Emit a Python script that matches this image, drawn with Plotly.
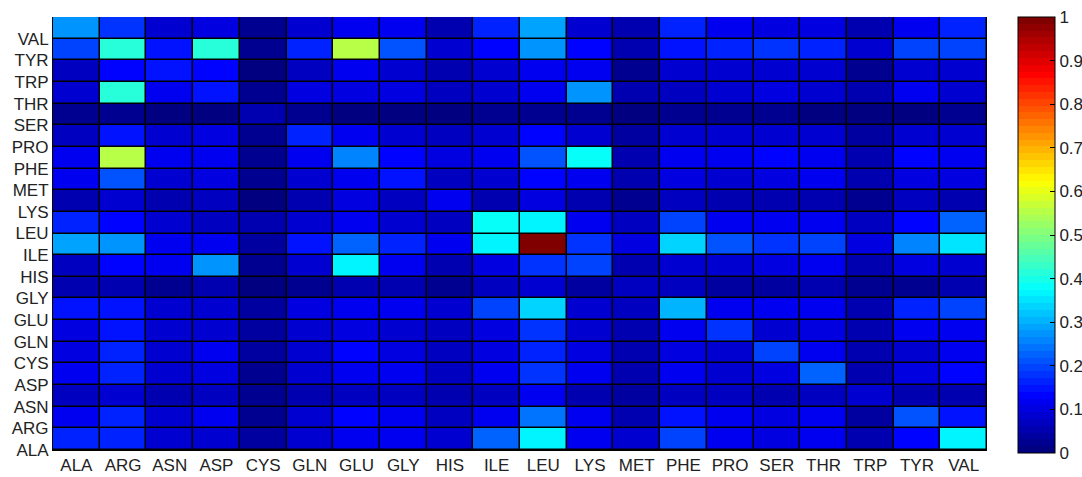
import plotly.graph_objects as go

x_labels = ["ALA", "ARG", "ASN", "ASP", "CYS", "GLN", "GLU", "GLY", "HIS", "ILE",
            "LEU", "LYS", "MET", "PHE", "PRO", "SER", "THR", "TRP", "TYR", "VAL"]
y_labels = ["ALA", "ARG", "ASN", "ASP", "CYS", "GLN", "GLU", "GLY", "HIS", "ILE",
            "LEU", "LYS", "MET", "PHE", "PRO", "SER", "THR", "TRP", "TYR", "VAL"]

# matrix rows listed from the top row of the picture down to the bottom row
row_01 = [0.27, 0.18, 0.08, 0.10, 0.03, 0.08, 0.12, 0.12, 0.05, 0.16, 0.29, 0.09, 0.05, 0.16, 0.11, 0.10, 0.10, 0.06, 0.12, 0.17]
row_02 = [0.20, 0.41, 0.15, 0.42, 0.03, 0.17, 0.55, 0.21, 0.08, 0.14, 0.27, 0.13, 0.06, 0.15, 0.16, 0.18, 0.17, 0.08, 0.19, 0.19]
row_03 = [0.07, 0.14, 0.15, 0.13, 0.01, 0.07, 0.12, 0.09, 0.05, 0.08, 0.12, 0.11, 0.02, 0.08, 0.08, 0.09, 0.08, 0.03, 0.08, 0.08]
row_04 = [0.09, 0.42, 0.11, 0.15, 0.03, 0.10, 0.10, 0.10, 0.07, 0.08, 0.12, 0.27, 0.05, 0.07, 0.08, 0.10, 0.09, 0.05, 0.11, 0.08]
row_05 = [0.03, 0.03, 0.01, 0.00, 0.05, 0.02, 0.00, 0.00, 0.01, 0.02, 0.03, 0.02, 0.01, 0.03, 0.02, 0.02, 0.00, 0.00, 0.01, 0.02]
row_06 = [0.07, 0.15, 0.08, 0.10, 0.03, 0.16, 0.12, 0.09, 0.07, 0.09, 0.14, 0.08, 0.04, 0.09, 0.08, 0.09, 0.09, 0.04, 0.08, 0.09]
row_07 = [0.12, 0.55, 0.12, 0.11, 0.02, 0.12, 0.25, 0.13, 0.10, 0.12, 0.21, 0.38, 0.05, 0.11, 0.11, 0.14, 0.12, 0.06, 0.14, 0.12]
row_08 = [0.12, 0.21, 0.08, 0.10, 0.02, 0.08, 0.12, 0.15, 0.07, 0.09, 0.14, 0.11, 0.05, 0.10, 0.09, 0.10, 0.11, 0.05, 0.10, 0.10]
row_09 = [0.05, 0.09, 0.05, 0.07, 0.01, 0.06, 0.10, 0.07, 0.11, 0.06, 0.10, 0.05, 0.02, 0.07, 0.06, 0.06, 0.05, 0.02, 0.07, 0.06]
row_10 = [0.16, 0.14, 0.08, 0.07, 0.05, 0.09, 0.12, 0.09, 0.07, 0.38, 0.36, 0.11, 0.07, 0.19, 0.11, 0.11, 0.12, 0.07, 0.14, 0.22]
row_11 = [0.29, 0.27, 0.12, 0.12, 0.04, 0.15, 0.22, 0.17, 0.11, 0.36, 1.00, 0.18, 0.10, 0.33, 0.21, 0.18, 0.20, 0.10, 0.25, 0.35]
row_12 = [0.07, 0.14, 0.11, 0.28, 0.02, 0.08, 0.36, 0.11, 0.06, 0.10, 0.18, 0.20, 0.05, 0.09, 0.09, 0.10, 0.11, 0.05, 0.10, 0.09]
row_13 = [0.05, 0.06, 0.03, 0.05, 0.01, 0.03, 0.05, 0.05, 0.03, 0.07, 0.09, 0.04, 0.07, 0.07, 0.04, 0.04, 0.05, 0.02, 0.03, 0.05]
row_14 = [0.15, 0.15, 0.09, 0.08, 0.04, 0.10, 0.11, 0.11, 0.08, 0.20, 0.33, 0.09, 0.07, 0.31, 0.12, 0.11, 0.11, 0.06, 0.17, 0.19]
row_15 = [0.10, 0.15, 0.08, 0.09, 0.04, 0.08, 0.10, 0.09, 0.07, 0.10, 0.18, 0.09, 0.05, 0.12, 0.18, 0.09, 0.10, 0.06, 0.12, 0.12]
row_16 = [0.10, 0.17, 0.09, 0.11, 0.04, 0.09, 0.14, 0.10, 0.07, 0.10, 0.16, 0.10, 0.05, 0.10, 0.09, 0.19, 0.11, 0.06, 0.09, 0.11]
row_17 = [0.11, 0.16, 0.09, 0.10, 0.03, 0.09, 0.12, 0.11, 0.07, 0.12, 0.18, 0.11, 0.05, 0.11, 0.09, 0.10, 0.22, 0.06, 0.10, 0.13]
row_18 = [0.07, 0.08, 0.05, 0.07, 0.03, 0.06, 0.07, 0.07, 0.05, 0.07, 0.12, 0.06, 0.04, 0.07, 0.07, 0.05, 0.07, 0.08, 0.05, 0.06]
row_19 = [0.12, 0.16, 0.09, 0.11, 0.03, 0.08, 0.14, 0.11, 0.07, 0.12, 0.24, 0.11, 0.05, 0.15, 0.12, 0.10, 0.11, 0.04, 0.21, 0.15]
row_20 = [0.17, 0.17, 0.08, 0.09, 0.04, 0.09, 0.12, 0.11, 0.08, 0.22, 0.36, 0.11, 0.08, 0.20, 0.11, 0.10, 0.12, 0.06, 0.14, 0.36]

rows_top_down = [row_01, row_02, row_03, row_04, row_05, row_06, row_07, row_08, row_09, row_10,
                 row_11, row_12, row_13, row_14, row_15, row_16, row_17, row_18, row_19, row_20]
z = rows_top_down[::-1]  # bottom row first

colorbar_ticks = [0, 0.1, 0.2, 0.3, 0.4, 0.5, 0.6, 0.7, 0.8, 0.9, 1]
colorbar_text = ["0", "0.1", "0.2", "0.3", "0.4", "0.5", "0.6", "0.7", "0.8", "0.9", "1"]


def jet(t):
    r = min(max(1.5 - abs(4 * t - 3), 0), 1)
    g = min(max(1.5 - abs(4 * t - 2), 0), 1)
    b = min(max(1.5 - abs(4 * t - 1), 0), 1)
    return f"rgb({int(round(r*255))},{int(round(g*255))},{int(round(b*255))})"


n = 64
colorscale = []
for i in range(n):
    c = jet(i / (n - 1))
    colorscale.append([i / n, c])
    colorscale.append([(i + 1) / n, c])

x_pos = list(range(1, len(x_labels) + 1))
y_centers = [k + 1.5 for k in range(len(z))]

font_family = "Liberation Sans, Arial, sans-serif"

fig = go.Figure(go.Heatmap(
    z=z,
    x=x_pos,
    y=y_centers,
    zmin=0, zmax=1,
    colorscale=colorscale,
    xgap=1.5, ygap=1.5,
    colorbar=dict(
        xref="container", x=1018 / 1082, xanchor="left",
        yref="paper", y=0.4965, yanchor="middle",
        len=1.007, lenmode="fraction",
        xpad=0, ypad=0,
        thickness=37, thicknessmode="pixels",
        outlinecolor="black", outlinewidth=1,
        tickvals=colorbar_ticks, ticktext=colorbar_text,
        ticks="inside", ticklen=5, tickcolor="black",
        tickfont=dict(family=font_family, size=17, color="#222"),
    ),
))

fig.update_layout(
    width=1082, height=477,
    margin=dict(l=53, r=95, t=17, b=27),
    paper_bgcolor="white",
    plot_bgcolor="black",
    xaxis=dict(
        range=[0.5, 20.5], tickvals=x_pos, ticktext=x_labels,
        showgrid=False, zeroline=False, ticks="", automargin=False,
        showline=True, linecolor="black", linewidth=1,
        tickfont=dict(family=font_family, size=17, color="#222"),
    ),
    yaxis=dict(
        range=[1, 21], tickvals=list(range(1, 21)), ticktext=y_labels,
        showgrid=False, zeroline=False, ticks="", automargin=False,
        showline=True, linecolor="black", linewidth=1,
        tickfont=dict(family=font_family, size=17, color="#222"),
    ),
)

fig.write_html(
    "out.html",
    config={"displayModeBar": False},
    post_script="document.body.style.margin='0';document.body.style.overflow='hidden';",
)
